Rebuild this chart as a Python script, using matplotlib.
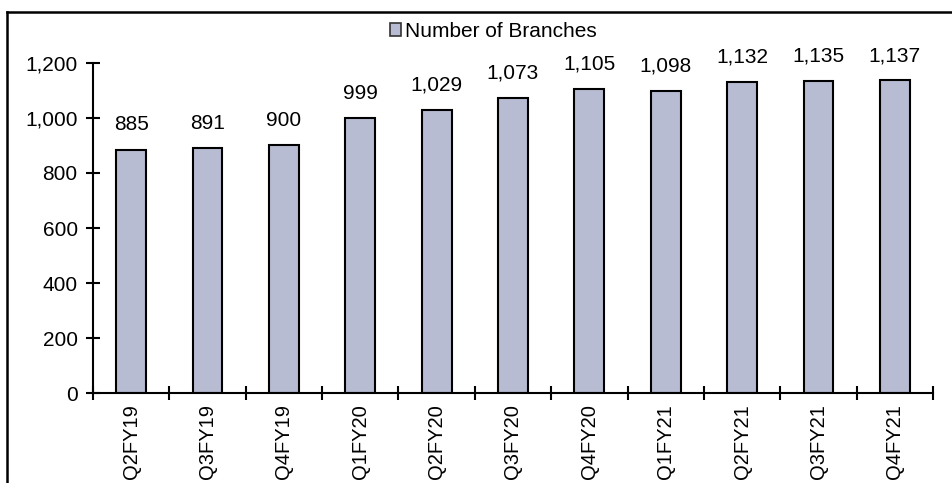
import numpy as np
import matplotlib.pyplot as plt
from matplotlib.lines import Line2D

plt.rcParams['font.family'] = ['Liberation Sans', 'DejaVu Sans']

quarters = ["Q2FY19", "Q3FY19", "Q4FY19", "Q1FY20", "Q2FY20", "Q3FY20",
            "Q4FY20", "Q1FY21", "Q2FY21", "Q3FY21", "Q4FY21"]
branches = [885, 891, 900, 999, 1029, 1073, 1105, 1098, 1132, 1135, 1137]
y_ticks = [0, 200, 400, 600, 800, 1000, 1200]

bar_color = "#b7bcd2"

fig = plt.figure(figsize=(9.52, 4.83), dpi=100)
ax = fig.add_axes([0.0977, 0.1863, 0.8823, 0.6833])

x = np.arange(len(quarters))
bars = ax.bar(x, branches, width=0.39, color=bar_color, edgecolor="black",
              linewidth=1.5, label="Number of Branches")

for xi, v in zip(x, branches):
    ax.annotate(f"{v:,}", (xi, v), xytext=(0, 11), textcoords="offset points",
                ha="center", va="bottom", fontsize=15)

ax.set_xlim(-0.5, len(quarters) - 0.5)
ax.set_ylim(0, 1200)
ax.set_yticks(y_ticks)
ax.set_yticklabels([f"{t:,}" for t in y_ticks], fontsize=15)
ax.set_xticks(x)
ax.set_xticklabels(quarters, rotation=90, fontsize=14.5)
ax.set_xticks(np.arange(-0.5, len(quarters)), minor=True)
ax.tick_params(axis="x", which="major", length=0, pad=8)
ax.tick_params(axis="x", which="minor", direction="inout", length=10, width=1.5)
ax.tick_params(axis="y", direction="inout", length=10, width=1.5, pad=6)

for side in ["top", "right"]:
    ax.spines[side].set_visible(False)
for side in ["left", "bottom"]:
    ax.spines[side].set_linewidth(1.5)

leg = fig.legend(handles=[bars], loc="center", bbox_to_anchor=(0.518, 0.935),
                 frameon=False, fontsize=15, handlelength=0.55, handleheight=0.55,
                 handletextpad=0.15, borderpad=0)
leg.legend_handles[0].set_edgecolor("#333333")
leg.legend_handles[0].set_linewidth(1.2)

# outer frame: top and left border lines
fig.add_artist(Line2D([7 / 952, 1.0], [1 - 12 / 483, 1 - 12 / 483],
                      transform=fig.transFigure, color="black", linewidth=1.8))
fig.add_artist(Line2D([7 / 952, 7 / 952], [0, 1 - 12 / 483],
                      transform=fig.transFigure, color="black", linewidth=1.8))

fig.savefig("out.png", dpi=100)
